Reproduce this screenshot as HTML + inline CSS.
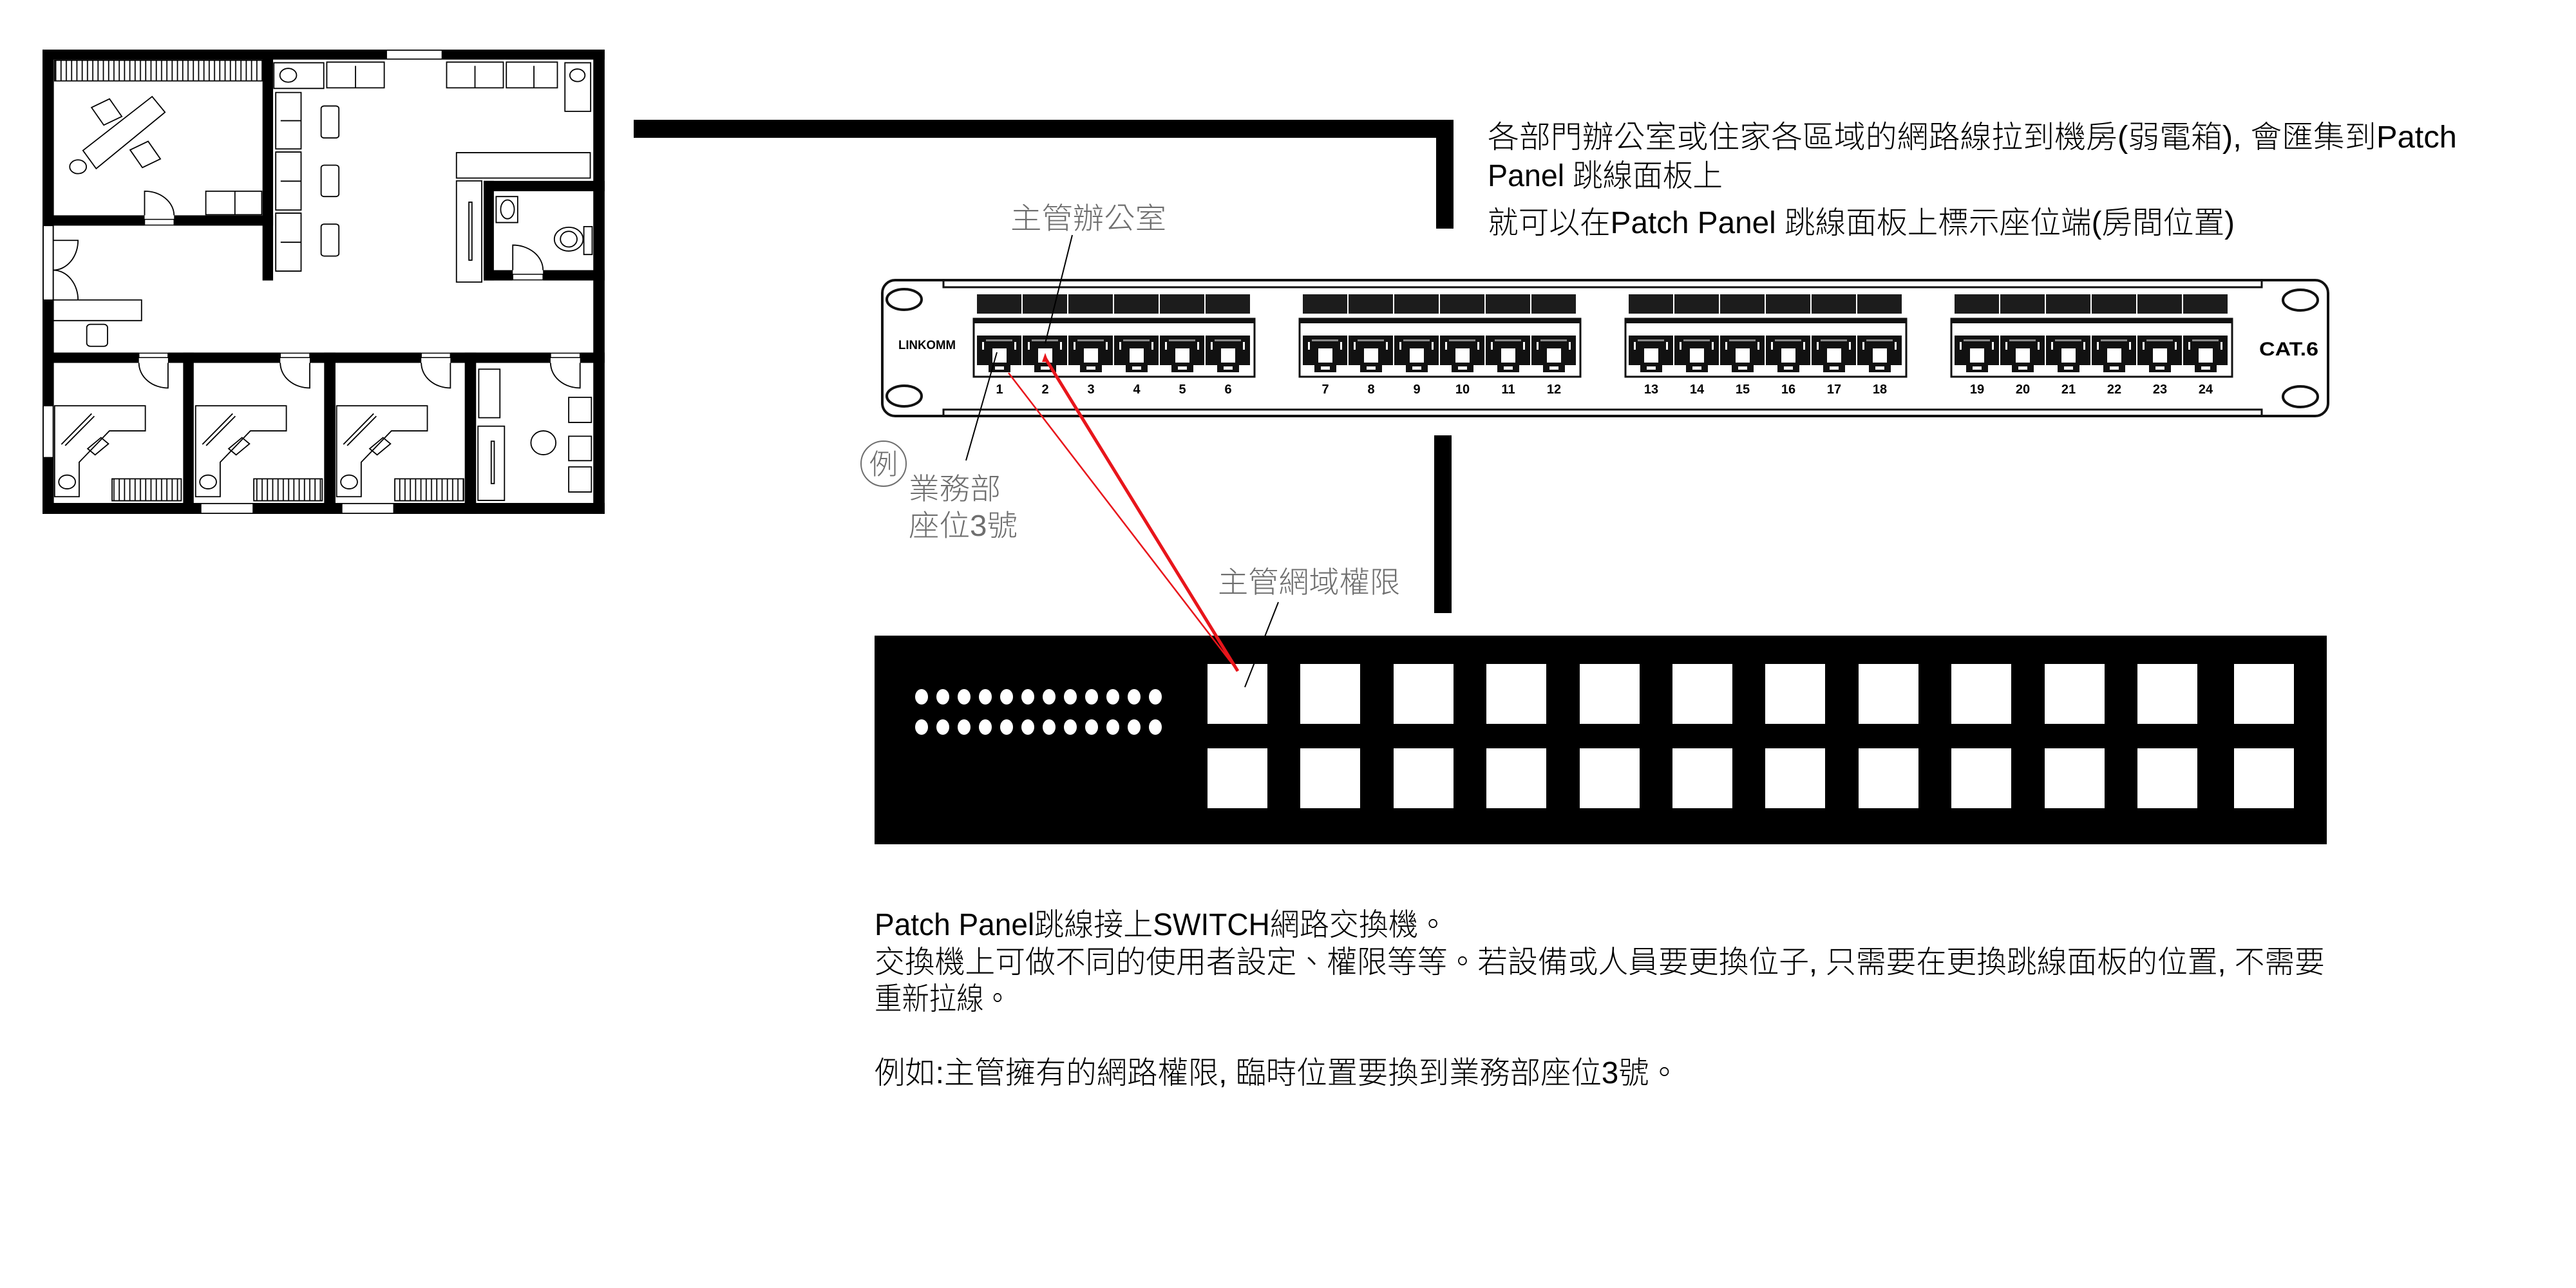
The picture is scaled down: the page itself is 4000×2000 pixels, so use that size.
<!DOCTYPE html>
<html><head><meta charset="utf-8"><style>
html,body{margin:0;padding:0;background:#fff;}
svg{display:block;}
.t{font-family:"Liberation Sans","Noto Sans CJK TC",sans-serif;font-weight:300;}
.n{font-family:"Liberation Sans",sans-serif;font-weight:bold;font-size:20px;text-anchor:middle;}
</style></head><body>
<svg width="4000" height="2000" viewBox="0 0 4000 2000" xmlns="http://www.w3.org/2000/svg">
<defs>
<pattern id="rad" width="14" height="10" patternUnits="userSpaceOnUse"><line x1="7" y1="0" x2="7" y2="10" stroke="#000" stroke-width="3"/></pattern>
<g id="jack">
<rect x="0" y="0" width="69" height="46" fill="#111"/>
<rect x="8" y="10" width="3" height="12" fill="#fff"/>
<rect x="58" y="10" width="3" height="12" fill="#fff"/>
<rect x="14" y="6" width="41" height="3" fill="#fff" opacity="0.5"/>
<rect x="24" y="20" width="22" height="22" fill="#fff"/>
<rect x="18" y="46" width="34" height="11" fill="#111"/>
<rect x="28" y="48" width="14" height="5" fill="#fff"/>
</g>
<g id="grp">
<rect x="0" y="-38" width="69" height="30" fill="#1c1c1c"/><rect x="71" y="-38" width="69" height="30" fill="#1c1c1c"/><rect x="142" y="-38" width="69" height="30" fill="#1c1c1c"/><rect x="213" y="-38" width="69" height="30" fill="#1c1c1c"/><rect x="284" y="-38" width="69" height="30" fill="#1c1c1c"/><rect x="355" y="-38" width="69" height="30" fill="#1c1c1c"/>
<rect x="-5" y="0" width="436" height="90" fill="none" stroke="#111" stroke-width="3"/>
<rect x="-5" y="0" width="436" height="7" fill="#111"/>
<use href="#jack" x="0" y="26"/><use href="#jack" x="71" y="26"/><use href="#jack" x="142" y="26"/><use href="#jack" x="213" y="26"/><use href="#jack" x="284" y="26"/><use href="#jack" x="355" y="26"/>
</g>
</defs>

<!-- FLOOR PLAN -->
<g transform="translate(66,77) scale(0.587,0.4865) translate(-28,-28)">
<g fill="#000">
<rect x="28" y="28" width="1487" height="32"/>
<rect x="28" y="28" width="30" height="1482"/>
<rect x="1485" y="28" width="30" height="1482"/>
<rect x="28" y="1475" width="1487" height="35"/>
<rect x="610" y="28" width="28" height="737"/>
<rect x="28" y="557" width="270" height="33"/>
<rect x="376" y="557" width="262" height="33"/>
<rect x="1195" y="447" width="320" height="33"/>
<rect x="1195" y="447" width="27" height="318"/>
<rect x="1195" y="732" width="77" height="33"/>
<rect x="1352" y="732" width="163" height="33"/>
<rect x="28" y="995" width="255" height="33"/>
<rect x="360" y="995" width="297" height="33"/>
<rect x="735" y="995" width="295" height="33"/>
<rect x="1107" y="995" width="265" height="33"/>
<rect x="1450" y="995" width="65" height="33"/>
<rect x="400" y="995" width="28" height="515"/>
<rect x="773" y="995" width="30" height="515"/>
<rect x="1145" y="995" width="30" height="515"/>
</g>
<g fill="#fff" stroke="#000" stroke-width="1.5" vector-effect="non-scaling-stroke">
<rect x="938" y="30" width="147" height="28" vector-effect="non-scaling-stroke"/>
<rect x="30" y="590" width="26" height="237" vector-effect="non-scaling-stroke"/>
<rect x="30" y="1165" width="26" height="165" vector-effect="non-scaling-stroke"/>
<rect x="447" y="1477" width="138" height="31" vector-effect="non-scaling-stroke"/>
<rect x="820" y="1477" width="137" height="31" vector-effect="non-scaling-stroke"/>
<rect x="298" y="570" width="78" height="18" vector-effect="non-scaling-stroke"/>
<rect x="1272" y="745" width="80" height="18" vector-effect="non-scaling-stroke"/>
<rect x="283" y="997" width="77" height="14" vector-effect="non-scaling-stroke"/>
<rect x="657" y="997" width="78" height="14" vector-effect="non-scaling-stroke"/>
<rect x="1030" y="997" width="77" height="14" vector-effect="non-scaling-stroke"/>
<rect x="1372" y="997" width="78" height="14" vector-effect="non-scaling-stroke"/>
</g>
<g fill="none" stroke="#000" stroke-width="1.8">
<!-- doors -->
<path d="M298 557 V480 A78 78 0 0 1 376 557" vector-effect="non-scaling-stroke"/>
<path d="M1272 732 V652 A80 80 0 0 1 1352 732" vector-effect="non-scaling-stroke"/>
<path d="M56 637 H122 A66 95 0 0 1 56 732" vector-effect="non-scaling-stroke"/>
<path d="M56 732 A66 95 0 0 1 122 827" vector-effect="non-scaling-stroke"/>
<path d="M360 1028 V1108 A77 80 0 0 1 283 1028" vector-effect="non-scaling-stroke"/>
<path d="M735 1028 V1108 A78 80 0 0 1 657 1028" vector-effect="non-scaling-stroke"/>
<path d="M1107 1028 V1108 A77 80 0 0 1 1030 1028" vector-effect="non-scaling-stroke"/>
<path d="M1450 1028 V1108 A78 80 0 0 1 1372 1028" vector-effect="non-scaling-stroke"/>
<!-- radiators -->
<rect x="60" y="62" width="550" height="66" fill="url(#rad)" vector-effect="non-scaling-stroke"/>
<rect x="212" y="1398" width="183" height="70" fill="url(#rad)" vector-effect="non-scaling-stroke"/>
<rect x="587" y="1398" width="181" height="70" fill="url(#rad)" vector-effect="non-scaling-stroke"/>
<rect x="960" y="1398" width="182" height="70" fill="url(#rad)" vector-effect="non-scaling-stroke"/>
<!-- top-left office -->
<polygon points="135,350 318,178 352,228 170,408" vector-effect="non-scaling-stroke"/>
<rect x="170" y="195" width="55" height="65" transform="rotate(-30 197 227)" vector-effect="non-scaling-stroke"/>
<rect x="272" y="330" width="55" height="65" transform="rotate(-30 300 362)" vector-effect="non-scaling-stroke"/>
<circle cx="122" cy="402" r="22" vector-effect="non-scaling-stroke"/>
<rect x="460" y="480" width="148" height="75" vector-effect="non-scaling-stroke"/>
<line x1="537" y1="480" x2="537" y2="555" vector-effect="non-scaling-stroke"/>
<!-- lounge -->
<rect x="640" y="70" width="132" height="82" vector-effect="non-scaling-stroke"/>
<circle cx="678" cy="110" r="22" vector-effect="non-scaling-stroke"/>
<rect x="780" y="68" width="152" height="82" vector-effect="non-scaling-stroke"/>
<line x1="856" y1="80" x2="856" y2="150" vector-effect="non-scaling-stroke"/>
<rect x="1097" y="68" width="150" height="82" vector-effect="non-scaling-stroke"/>
<line x1="1172" y1="80" x2="1172" y2="150" vector-effect="non-scaling-stroke"/>
<rect x="1255" y="68" width="135" height="82" vector-effect="non-scaling-stroke"/>
<line x1="1328" y1="80" x2="1328" y2="150" vector-effect="non-scaling-stroke"/>
<rect x="1410" y="70" width="68" height="155" vector-effect="non-scaling-stroke"/>
<circle cx="1443" cy="110" r="20" vector-effect="non-scaling-stroke"/>
<rect x="645" y="165" width="67" height="180" vector-effect="non-scaling-stroke"/>
<line x1="658" y1="255" x2="712" y2="255" vector-effect="non-scaling-stroke"/>
<rect x="645" y="355" width="67" height="185" vector-effect="non-scaling-stroke"/>
<line x1="658" y1="448" x2="712" y2="448" vector-effect="non-scaling-stroke"/>
<rect x="645" y="550" width="67" height="185" vector-effect="non-scaling-stroke"/>
<line x1="658" y1="643" x2="712" y2="643" vector-effect="non-scaling-stroke"/>
<rect x="765" y="208" width="47" height="102" rx="8" vector-effect="non-scaling-stroke"/>
<rect x="765" y="397" width="47" height="100" rx="8" vector-effect="non-scaling-stroke"/>
<rect x="765" y="585" width="47" height="102" rx="8" vector-effect="non-scaling-stroke"/>
<rect x="1123" y="357" width="354" height="81" vector-effect="non-scaling-stroke"/>
<rect x="1123" y="447" width="67" height="323" vector-effect="non-scaling-stroke"/>
<rect x="1156" y="515" width="8" height="185" vector-effect="non-scaling-stroke"/>
<!-- bathroom -->
<rect x="1228" y="497" width="57" height="83" vector-effect="non-scaling-stroke"/>
<ellipse cx="1258" cy="538" rx="18" ry="30" vector-effect="non-scaling-stroke"/>
<ellipse cx="1420" cy="633" rx="38" ry="38" vector-effect="non-scaling-stroke"/>
<ellipse cx="1420" cy="633" rx="22" ry="25" vector-effect="non-scaling-stroke"/>
<rect x="1460" y="593" width="22" height="89" vector-effect="non-scaling-stroke"/>
<!-- reception -->
<rect x="55" y="827" width="235" height="66" vector-effect="non-scaling-stroke"/>
<rect x="145" y="905" width="55" height="70" rx="10" vector-effect="non-scaling-stroke"/>
<!-- cubicles -->
<g id="cub">
<polygon points="60,1165 300,1165 300,1245 205,1245 125,1345 125,1455 60,1455" vector-effect="non-scaling-stroke"/>
<line x1="78" y1="1288" x2="158" y2="1190" vector-effect="non-scaling-stroke"/>
<line x1="88" y1="1292" x2="165" y2="1198" vector-effect="non-scaling-stroke"/>
<rect x="150" y="1280" width="50" height="28" transform="rotate(-45 175 1294)" vector-effect="non-scaling-stroke"/>
<circle cx="93" cy="1408" r="22" vector-effect="non-scaling-stroke"/>
</g>
<use href="#cub" x="373"/>
<use href="#cub" x="746"/>
<!-- right room -->
<rect x="1182" y="1048" width="56" height="155" vector-effect="non-scaling-stroke"/>
<rect x="1180" y="1230" width="70" height="237" vector-effect="non-scaling-stroke"/>
<rect x="1215" y="1278" width="8" height="135" vector-effect="non-scaling-stroke"/>
<ellipse cx="1353" cy="1283" rx="33" ry="38" vector-effect="non-scaling-stroke"/>
<rect x="1420" y="1138" width="60" height="80" vector-effect="non-scaling-stroke"/>
<rect x="1420" y="1262" width="60" height="78" vector-effect="non-scaling-stroke"/>
<rect x="1420" y="1360" width="60" height="80" vector-effect="non-scaling-stroke"/>
</g>
</g>

<!-- connectors bars -->
<rect x="984" y="186" width="1273" height="28" fill="#000"/>
<rect x="2230" y="186" width="27" height="169" fill="#000"/>
<rect x="2227" y="676" width="27" height="276" fill="#000"/>

<!-- top text -->
<text class="t" x="2310" y="229" font-size="48" textLength="1505" lengthAdjust="spacingAndGlyphs">各部門辦公室或住家各區域的網路線拉到機房(弱電箱), 會匯集到Patch</text>
<text class="t" x="2310" y="289" font-size="48" textLength="365" lengthAdjust="spacingAndGlyphs">Panel 跳線面板上</text>
<text class="t" x="2310" y="362" font-size="48" textLength="1160" lengthAdjust="spacingAndGlyphs">就可以在Patch Panel 跳線面板上標示座位端(房間位置)</text>

<!-- PATCH PANEL -->
<rect x="1370" y="435" width="2245" height="211" rx="20" fill="#fff" stroke="#111" stroke-width="4"/>
<path d="M1465 435 V446 H3512 V435 M1465 646 V636 H3512 V646" fill="none" stroke="#111" stroke-width="3"/>
<ellipse cx="1404" cy="465" rx="27" ry="16" fill="none" stroke="#111" stroke-width="4"/>
<ellipse cx="1404" cy="615" rx="27" ry="16" fill="none" stroke="#111" stroke-width="4"/>
<ellipse cx="3572" cy="466" rx="27" ry="16" fill="none" stroke="#111" stroke-width="4"/>
<ellipse cx="3572" cy="616" rx="27" ry="16" fill="none" stroke="#111" stroke-width="4"/>
<use href="#grp" x="1517" y="495"/>
<use href="#grp" x="2023" y="495"/>
<use href="#grp" x="2529" y="495"/>
<use href="#grp" x="3035" y="495"/>
<text x="1395" y="542" font-family="Liberation Sans,sans-serif" font-weight="bold" font-size="19" textLength="89" lengthAdjust="spacingAndGlyphs">LINKOMM</text>
<text x="3508" y="552" font-family="Liberation Sans,sans-serif" font-weight="bold" font-size="30" textLength="92" lengthAdjust="spacingAndGlyphs">CAT.6</text>
<g class="n">
<text x="1552" y="611">1</text><text x="1623" y="611">2</text><text x="1694" y="611">3</text><text x="1765" y="611">4</text><text x="1836" y="611">5</text><text x="1907" y="611">6</text>
<text x="2058" y="611">7</text><text x="2129" y="611">8</text><text x="2200" y="611">9</text><text x="2271" y="611">10</text><text x="2342" y="611">11</text><text x="2413" y="611">12</text>
<text x="2564" y="611">13</text><text x="2635" y="611">14</text><text x="2706" y="611">15</text><text x="2777" y="611">16</text><text x="2848" y="611">17</text><text x="2919" y="611">18</text>
<text x="3070" y="611">19</text><text x="3141" y="611">20</text><text x="3212" y="611">21</text><text x="3283" y="611">22</text><text x="3354" y="611">23</text><text x="3425" y="611">24</text>
</g>

<!-- SWITCH -->
<rect x="1358" y="987" width="2255" height="324" fill="#000"/>
<g fill="#fff">
<ellipse cx="1431" cy="1082" rx="10" ry="12"/><ellipse cx="1464" cy="1082" rx="10" ry="12"/><ellipse cx="1497" cy="1082" rx="10" ry="12"/><ellipse cx="1530" cy="1082" rx="10" ry="12"/><ellipse cx="1563" cy="1082" rx="10" ry="12"/><ellipse cx="1596" cy="1082" rx="10" ry="12"/><ellipse cx="1629" cy="1082" rx="10" ry="12"/><ellipse cx="1662" cy="1082" rx="10" ry="12"/><ellipse cx="1695" cy="1082" rx="10" ry="12"/><ellipse cx="1728" cy="1082" rx="10" ry="12"/><ellipse cx="1761" cy="1082" rx="10" ry="12"/><ellipse cx="1794" cy="1082" rx="10" ry="12"/>
<ellipse cx="1431" cy="1129" rx="10" ry="12"/><ellipse cx="1464" cy="1129" rx="10" ry="12"/><ellipse cx="1497" cy="1129" rx="10" ry="12"/><ellipse cx="1530" cy="1129" rx="10" ry="12"/><ellipse cx="1563" cy="1129" rx="10" ry="12"/><ellipse cx="1596" cy="1129" rx="10" ry="12"/><ellipse cx="1629" cy="1129" rx="10" ry="12"/><ellipse cx="1662" cy="1129" rx="10" ry="12"/><ellipse cx="1695" cy="1129" rx="10" ry="12"/><ellipse cx="1728" cy="1129" rx="10" ry="12"/><ellipse cx="1761" cy="1129" rx="10" ry="12"/><ellipse cx="1794" cy="1129" rx="10" ry="12"/>
<rect x="1875" y="1031" width="93" height="93"/><rect x="2019" y="1031" width="93" height="93"/><rect x="2164" y="1031" width="93" height="93"/><rect x="2308" y="1031" width="93" height="93"/><rect x="2453" y="1031" width="93" height="93"/><rect x="2597" y="1031" width="93" height="93"/><rect x="2741" y="1031" width="93" height="93"/><rect x="2886" y="1031" width="93" height="93"/><rect x="3030" y="1031" width="93" height="93"/><rect x="3175" y="1031" width="93" height="93"/><rect x="3319" y="1031" width="93" height="93"/><rect x="3469" y="1031" width="93" height="93"/>
<rect x="1875" y="1162" width="93" height="93"/><rect x="2019" y="1162" width="93" height="93"/><rect x="2164" y="1162" width="93" height="93"/><rect x="2308" y="1162" width="93" height="93"/><rect x="2453" y="1162" width="93" height="93"/><rect x="2597" y="1162" width="93" height="93"/><rect x="2741" y="1162" width="93" height="93"/><rect x="2886" y="1162" width="93" height="93"/><rect x="3030" y="1162" width="93" height="93"/><rect x="3175" y="1162" width="93" height="93"/><rect x="3319" y="1162" width="93" height="93"/><rect x="3469" y="1162" width="93" height="93"/>
</g>

<!-- leader lines -->
<line x1="1665" y1="365" x2="1623" y2="533" stroke="#000" stroke-width="2"/>
<line x1="1500" y1="715" x2="1548" y2="547" stroke="#000" stroke-width="2"/>
<line x1="1985" y1="935" x2="1933" y2="1067" stroke="#000" stroke-width="2"/>
<line x1="1566" y1="579" x2="1922" y2="1042" stroke="#e8151b" stroke-width="2.5"/>
<line x1="1623" y1="556" x2="1922" y2="1042" stroke="#e8151b" stroke-width="5"/>
<polygon points="1623,548 1618,562 1628,562" fill="#e8151b"/>

<!-- labels -->
<g class="t" fill="#6e6e6e">
<text x="1569" y="355" font-size="46" textLength="242" lengthAdjust="spacingAndGlyphs">主管辦公室</text>
<circle cx="1372" cy="720" r="35" fill="none" stroke="#6e6e6e" stroke-width="2"/>
<text x="1372" y="736" font-size="44" text-anchor="middle">例</text>
<text x="1411" y="775" font-size="46" textLength="143" lengthAdjust="spacingAndGlyphs">業務部</text>
<text x="1411" y="832" font-size="46" textLength="169" lengthAdjust="spacingAndGlyphs">座位3號</text>
<text x="1891" y="920" font-size="46" textLength="283" lengthAdjust="spacingAndGlyphs">主管網域權限</text>
</g>

<!-- bottom text -->
<g class="t" fill="#000" font-size="48">
<text x="1358" y="1452" textLength="890" lengthAdjust="spacingAndGlyphs">Patch Panel跳線接上SWITCH網路交換機。</text>
<text x="1358" y="1510" textLength="2252" lengthAdjust="spacingAndGlyphs">交換機上可做不同的使用者設定、權限等等。若設備或人員要更換位子, 只需要在更換跳線面板的位置, 不需要</text>
<text x="1358" y="1567" textLength="212" lengthAdjust="spacingAndGlyphs">重新拉線。</text>
<text x="1358" y="1682" textLength="1250" lengthAdjust="spacingAndGlyphs">例如:主管擁有的網路權限, 臨時位置要換到業務部座位3號。</text>
</g>
</svg>
</body></html>
